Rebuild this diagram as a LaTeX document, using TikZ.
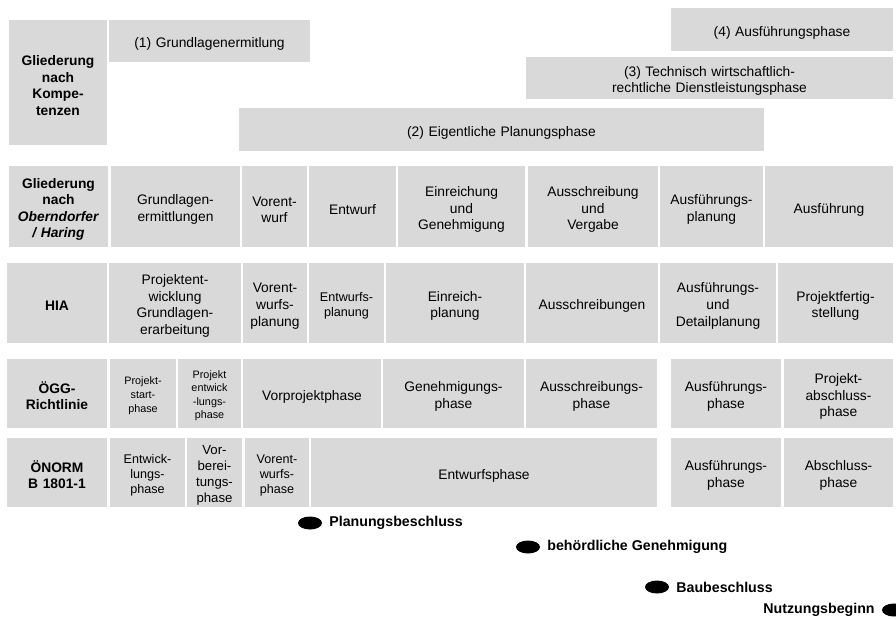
\documentclass[tikz,border=0pt]{standalone}
\usepackage{fontspec}
\setmainfont{Liberation Sans}
\usepackage{tikz}
\usetikzlibrary{positioning}
\usetikzlibrary{shapes.geometric}
\definecolor{boxgray}{HTML}{D9D9D9}

\begin{document}
\begin{tikzpicture}[x=1pt,y=-1pt,
    box/.style={fill=boxgray,inner sep=0pt,align=center,font=\fontsize{13.8}{16.6}\selectfont,
      execute at begin node={\rule{0pt}{1.15em}}},
    hbox/.style={box,font=\fontsize{13.8}{16.6}\selectfont\bfseries},
    sbox/.style={box,font=\fontsize{12.6}{15.2}\selectfont},
    tbox/.style={box,font=\fontsize{10.8}{13.6}\selectfont},
    w/.style={minimum width=#1,text width=#1},
    rowa/.style={minimum height=81pt},
    rowb/.style={minimum height=80pt},
    rowc/.style={minimum height=69pt},
    dot/.style={ellipse,fill=black,inner sep=0pt,minimum width=24pt,minimum height=13pt},
    mstext/.style={font=\fontsize{14.2}{17}\selectfont\bfseries,inner sep=2pt}]

      \useasboundingbox (0,0) rectangle (896,619);

      \node (komp) [hbox,w=98pt,minimum height=125pt] at (58,82.5) {Gliederung\\nach\\Kompe-\\tenzen};
      \node (k1) [box,w=201pt,minimum height=42pt] at (209.5,41) {(1) Grundlagenermitlung};
      \node (k4) [box,w=222pt,minimum height=43pt] at (782,29.5) {(4) Ausführungsphase};
      \node (k3) [box,w=367pt,minimum height=42pt] at (709.5,78) {(3) Technisch wirtschaftlich-\\rechtliche Dienstleistungsphase};
      \node (k2) [box,w=525pt,minimum height=43pt] at (501.5,129.5) {(2) Eigentliche Planungsphase};

      \node (oh) [hbox,rowa,w=99pt] at (58.5,206.5) {Gliederung\\nach\\\textit{Oberndorfer}\\\textit{/ Haring}};
      \node (oh1) [box,rowa,w=129pt] at (175.5,206.5) {Grundlagen-\\ermittlungen};
      \node (oh2) [box,rowa,w=65pt] at (274.5,206.5) {Vorent-\\wurf};
      \node (oh3) [box,rowa,w=87pt] at (352.5,206.5) {Entwurf};
      \node (oh4) [box,rowa,w=127pt] at (461.5,206.5) {Einreichung\\und\\Genehmigung};
      \node (oh5) [box,rowa,w=130pt] at (593,206.5) {Ausschreibung\\und\\Vergabe};
      \node (oh6) [box,rowa,w=103pt] at (711.5,206.5) {Ausführungs-\\planung};
      \node (oh7) [box,rowa,w=128pt] at (829,206.5) {Ausführung};

      \node (hia) [hbox,rowb,w=100pt] at (57,303) {HIA};
      \node (hia1) [box,rowb,w=132pt] at (175,303) {Projektent-\\wicklung\\Grundlagen-\\erarbeitung};
      \node (hia2) [box,rowb,w=64pt] at (275,303) {Vorent-\\wurfs-\\planung};
      \node (hia3) [sbox,rowb,w=75pt] at (346.5,303) {Entwurfs-\\planung};
      \node (hia4) [box,rowb,w=138pt] at (455,303) {Einreich-\\planung};
      \node (hia5) [box,rowb,w=132pt] at (592,303) {Ausschreibungen};
      \node (hia6) [box,rowb,w=116pt] at (718,303) {Ausführungs-\\und\\Detailplanung};
      \node (hia7) [box,rowb,w=115pt] at (835.5,303) {Projektfertig-\\stellung};

      \node (ogg) [hbox,rowc,w=100pt] at (57,393.5) {ÖGG-\\Richtlinie};
      \node (ogg1) [tbox,rowc,w=66pt] at (143,393.5) {Projekt-\\start-\\phase};
      \node (ogg2) [tbox,rowc,w=63pt] at (209.5,393.5) {Projekt\\entwick\\-lungs-\\phase};
      \node (ogg3) [box,rowc,w=138pt] at (312,393.5) {Vorprojektphase};
      \node (ogg4) [box,rowc,w=141pt] at (453.5,393.5) {Genehmigungs-\\phase};
      \node (ogg5) [box,rowc,w=131pt] at (591.5,393.5) {Ausschreibungs-\\phase};
      \node (ogg6) [box,rowc,w=110pt] at (726,393.5) {Ausführungs-\\phase};
      \node (ogg7) [box,rowc,w=109pt] at (838.5,393.5) {Projekt-\\abschluss-\\phase};

      \node (on) [hbox,rowc,w=100pt] at (57,472.5) {ÖNORM\\B 1801-1};
      \node (on1) [sbox,rowc,w=75pt] at (147.5,472.5) {Entwick-\\lungs-\\phase};
      \node (on2) [box,rowc,font=\fontsize{13.2}{16}\selectfont,w=55pt] at (214.5,472.5) {Vor-\\berei-\\tungs-\\phase};
      \node (on3) [sbox,rowc,w=64pt] at (277,472.5) {Vorent-\\wurfs-\\phase};
      \node (on4) [box,rowc,w=346pt] at (484,472.5) {Entwurfsphase};
      \node (on5) [box,rowc,w=110pt] at (726,472.5) {Ausführungs-\\phase};
      \node (on6) [box,rowc,w=109pt] at (838.5,472.5) {Abschluss-\\phase};

      \node (pb) [dot] at (310,523) {};
      \node (pbt) [mstext,right=5pt of pb] {Planungsbeschluss};
      \node (bg) [dot] at (528,547) {};
      \node (bgt) [mstext,right=5pt of bg] {behördliche Genehmigung};
      \node (bb) [dot] at (657,587) {};
      \node (bbt) [mstext,right=5pt of bb] {Baubeschluss};
      \node (nb) [dot] at (894,610) {};
      \node (nbt) [mstext,left=5pt of nb] {Nutzungsbeginn};
    \end{tikzpicture}
\end{document}
